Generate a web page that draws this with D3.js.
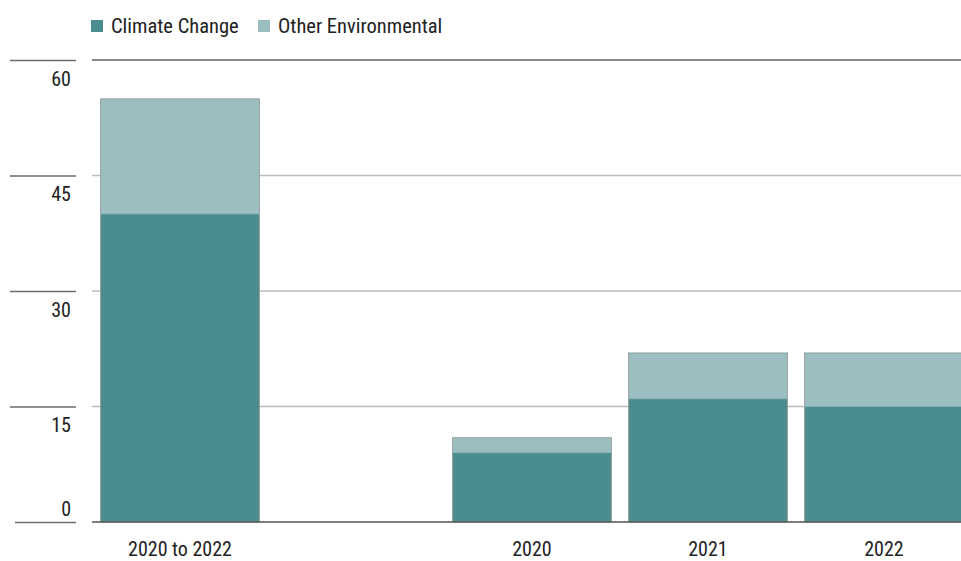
<!DOCTYPE html>
<html>
<head>
<meta charset="utf-8">
<script src="https://cdn.jsdelivr.net/npm/d3@7/dist/d3.min.js"></script>
<style>
  html, body { margin: 0; padding: 0; background: #fff; }
  svg { display: block; }
  text { font-family: "Roboto Condensed", "Liberation Sans Narrow", "DejaVu Sans Condensed", "Roboto", sans-serif; font-stretch: condensed; fill: #222; }
</style>
</head>
<body>
<svg id="chart" width="961" height="561"></svg>
<script>
// ---- data ----
const categories = ["2020 to 2022", "", "2020", "2021", "2022"];
const climateChange = [40, null, 9, 16, 15];
const otherEnvironmental = [15, null, 2, 6, 7];
const seriesNames = ["Climate Change", "Other Environmental"];
const yTicks = [0, 15, 30, 45, 60];

const colors = { "Climate Change": "#4b8c91", "Other Environmental": "#9bbfc0" };

const svg = d3.select("#chart");
const W = 961, H = 561;

const x = d3.scaleBand().domain(categories).range([92, 972])
  .paddingInner(16 / 176).paddingOuter(8 / 176);
const y = d3.scaleLinear().domain([0, 60]).range([522, 60]);

// gridlines (plot)
const grid = svg.append("g");
yTicks.forEach(t => {
  if (t === 0) return;
  grid.append("line")
    .attr("x1", 92).attr("x2", W)
    .attr("y1", y(t)).attr("y2", y(t))
    .attr("stroke", t === 60 ? "#8a8a8a" : "#bdbdbd")
    .attr("stroke-width", t === 60 ? 2 : 1.5);
});

// left tick lines + labels (via axis)
const axisG = svg.append("g").attr("transform", "translate(76,0)");
const yAxis = d3.axisLeft(y).tickValues(yTicks).tickSize(66).tickFormat(d3.format("d"));
axisG.call(yAxis);
axisG.select(".domain").remove();
axisG.selectAll(".tick line").attr("stroke", "#6b6b6b").attr("stroke-width", 1.5);
axisG.selectAll(".tick text")
  .attr("x", -5)
  .attr("dy", null)
  .attr("y", d => d === 0 ? -7 : 25)
  .attr("text-anchor", "end")
  .style("font-size", "20px")
  .style("font-family", null)
  .attr("fill", "#222");
axisG.selectAll(".tick").filter(d => d === 0).select("line").attr("x2", -61);

// stacked bars
const rows = categories.map((c, i) => ({ cat: c, "Climate Change": climateChange[i], "Other Environmental": otherEnvironmental[i] }))
  .filter(r => r["Climate Change"] !== null);
const stack = d3.stack().keys(seriesNames)(rows);

const barG = svg.append("g");
stack.forEach(layer => {
  barG.selectAll(null).data(layer).join("rect")
    .attr("x", d => x(d.data.cat))
    .attr("width", x.bandwidth())
    .attr("y", d => y(d[1]))
    .attr("height", d => y(d[0]) - y(d[1]))
    .attr("fill", colors[layer.key]);
});
// thin outline around each stack
barG.selectAll(null).data(rows).join("rect")
  .attr("x", d => x(d.cat) + 0.5)
  .attr("width", x.bandwidth() - 1)
  .attr("y", d => y(d["Climate Change"] + d["Other Environmental"]) + 0.5)
  .attr("height", d => y(0) - y(d["Climate Change"] + d["Other Environmental"]) - 0.5)
  .attr("fill", "none")
  .attr("stroke", "#9aa5a6")
  .attr("stroke-width", 1);
// boundary line between segments
barG.selectAll(null).data(rows).join("line")
  .attr("x1", d => x(d.cat)).attr("x2", d => x(d.cat) + x.bandwidth())
  .attr("y1", d => y(d["Climate Change"])).attr("y2", d => y(d["Climate Change"]))
  .attr("stroke", "#7faaab").attr("stroke-width", 1);

// baseline
svg.append("line").attr("x1", 92).attr("x2", W).attr("y1", y(0)).attr("y2", y(0))
  .attr("stroke", "#555").attr("stroke-width", 1.5);

// x axis labels
const xAxisG = svg.append("g").attr("transform", "translate(0,522)");
xAxisG.call(d3.axisBottom(x).tickSize(0).tickPadding(0));
xAxisG.select(".domain").remove();
xAxisG.selectAll(".tick text")
  .attr("y", 34).attr("dy", null)
  .style("font-size", "20px")
  .style("font-family", null)
  .attr("fill", "#222");

// legend
const leg = svg.append("g").attr("transform", "translate(91,20)");
seriesNames.forEach((s, i) => {
  const g = leg.append("g").attr("transform", `translate(${i === 0 ? 0 : 167},0)`);
  g.append("rect").attr("width", 12).attr("height", 12).attr("fill", colors[s]);
  g.append("text").attr("x", 20).attr("y", 13).style("font-size", "20.5px").text(s);
});
</script>
</body>
</html>
